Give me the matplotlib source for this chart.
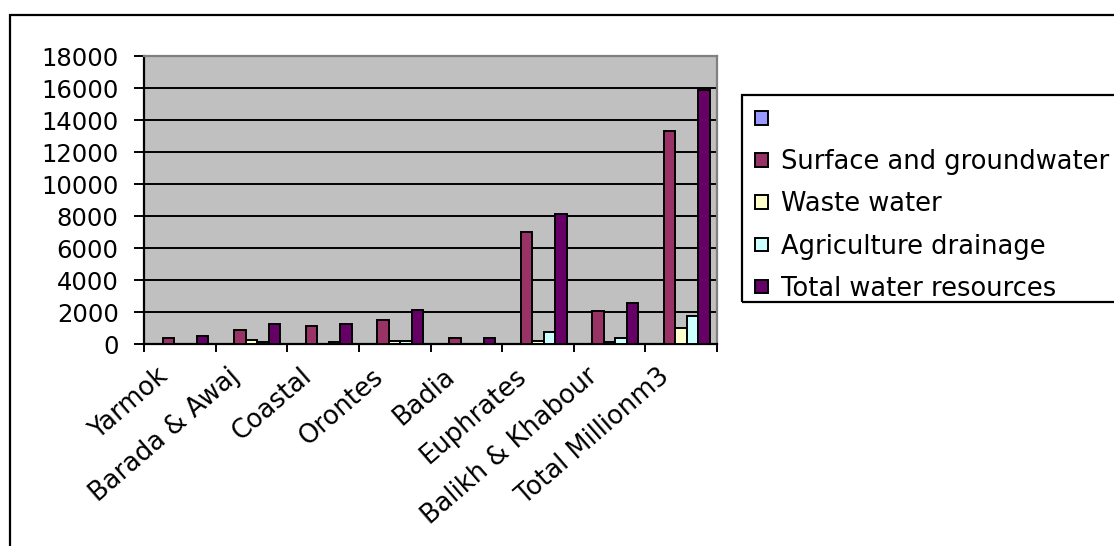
import matplotlib
matplotlib.use("Agg")
import matplotlib.pyplot as plt
import numpy as np
from matplotlib.patches import Rectangle, Patch
from matplotlib.transforms import ScaledTranslation

categories = ['Yarmok', 'Barada & Awaj', 'Coastal', 'Orontes', 'Badia',
              'Euphrates', 'Balikh & Khabour', 'Total Millionm3']
series_names = [' ', 'Surface and groundwater', 'Waste water',
                'Agriculture drainage', 'Total water resources']
blank = [0, 0, 0, 0, 0, 0, 0, 0]
surface = [370, 870, 1130, 1500, 360, 7020, 2070, 13300]
waste = [0, 220, 0, 180, 0, 210, 120, 980]
agri = [0, 100, 100, 200, 0, 730, 350, 1750]
total = [490, 1250, 1250, 2120, 360, 8130, 2590, 15900]
yticks = list(range(0, 18001, 2000))

colors = ['#9999FF', '#993366', '#FFFFCC', '#CCFFFF', '#660066']

plt.rcParams['font.family'] = ['DejaVu Sans']
FS = 17.5
XFS = 18.5
LFS = 18.5

W, H = 1114, 546
fig = plt.figure(figsize=(W / 100, H / 100), dpi=100)
fig.patch.set_facecolor('white')

# outer chart border (extends beyond right/bottom edge)
fig.patches.append(Rectangle((10 / W, -0.2), 1.5, (H - 15) / H + 0.2,
                             transform=fig.transFigure, fill=False,
                             edgecolor='black', linewidth=1.6))

ax = fig.add_axes([144 / W, (H - 344) / H, 573 / W, 288 / H])
ax.set_facecolor('#C0C0C0')

x = np.arange(len(categories))
bw = 0.16
data = [blank, surface, waste, agri, total]
handles = []
for k, (vals, col) in enumerate(zip(data, colors)):
    ax.bar(x + (k - 2) * bw, vals, width=bw, color=col, edgecolor='black',
           linewidth=1.4, zorder=3)
    handles.append(Patch(facecolor=col, edgecolor='black', linewidth=1.4))

ax.set_xlim(-0.5, len(categories) - 0.5)
ax.set_ylim(0, 18000)
ax.set_yticks(yticks)
ax.set_yticklabels([str(v) for v in yticks], fontsize=FS)
ax.yaxis.grid(True, color='black', linewidth=1.4, zorder=1)
ax.set_axisbelow(True)

ax.set_xticks(x)
ax.set_xticklabels(categories, fontsize=XFS, rotation=41, ha='right',
                   va='center', rotation_mode='anchor')
ax.set_xticks(np.arange(-0.5, len(categories), 1.0), minor=True)
ax.tick_params(axis='x', which='major', length=0, pad=21)
ax.tick_params(axis='x', which='minor', length=5.8, width=1.4,
               direction='out', color='black')
ax.tick_params(axis='y', length=7.2, width=1.4, direction='out', pad=11)
off = ScaledTranslation(-0.15, 0, fig.dpi_scale_trans)
for lab in ax.get_xticklabels():
    lab.set_transform(lab.get_transform() + off)

for s in ['left', 'bottom']:
    ax.spines[s].set_color('black')
    ax.spines[s].set_linewidth(1.6)
for s in ['top', 'right']:
    ax.spines[s].set_color('#808080')
    ax.spines[s].set_linewidth(1.6)

# legend frame extending beyond the right edge
fig.patches.append(Rectangle((742 / W, (H - 302) / H), 1.0, 207 / H,
                             transform=fig.transFigure, fill=False,
                             edgecolor='black', linewidth=1.6))
leg = fig.legend(handles, series_names, loc='upper left',
                 bbox_to_anchor=(755 / W, (H - 107) / H),
                 frameon=False, fontsize=LFS, borderpad=0, borderaxespad=0,
                 handlelength=0.5, handleheight=0.43, handletextpad=0.5,
                 labelspacing=0.63)

fig.savefig('out.png', dpi=100)
